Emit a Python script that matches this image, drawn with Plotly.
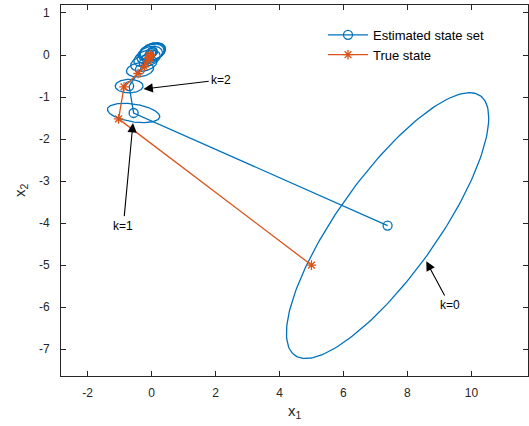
import numpy as np
import plotly.graph_objects as go

# ---- data ----
est_x = [7.38, -0.56, -0.70, -0.36, -0.24, -0.14, -0.06, -0.01, 0.02, 0.03, 0.04]
est_y = [-4.06, -1.38, -0.74, -0.35, -0.20, -0.08, 0.0, 0.05, 0.07, 0.08, 0.08]
true_x = [5.0, -1.03, -0.86, -0.42, -0.22, -0.12, -0.07, -0.05, -0.04, -0.03, -0.03]
true_y = [-5.0, -1.52, -0.76, -0.44, -0.28, -0.14, -0.07, -0.03, -0.01, 0.0, 0.0]
# shape matrices [P11, P12, P22] of the estimated state sets
shape_p11 = [10.0, 0.67, 0.19, 0.18, 0.17, 0.17, 0.16, 0.16, 0.16, 0.16, 0.16]
shape_p12 = [8.1, -0.07, 0.0, 0.015, 0.02, 0.025, 0.025, 0.025, 0.025, 0.025, 0.025]
shape_p22 = [10.0, 0.053, 0.026, 0.03, 0.036, 0.04, 0.044, 0.044, 0.044, 0.044, 0.044]

x_tickvals = [-2, 0, 2, 4, 6, 8, 10]
x_ticktext = ["-2", "0", "2", "4", "6", "8", "10"]
y_tickvals = [-7, -6, -5, -4, -3, -2, -1, 0, 1]
y_ticktext = ["-7", "-6", "-5", "-4", "-3", "-2", "-1", "0", "1"]

arrow_labels = ["k=0", "k=1", "k=2"]
arrow_tip_x = [8.59, -0.58, -0.25]
arrow_tip_y = [-4.91, -1.62, -0.81]
label_x = [9.32, -0.88, 2.18]
label_y = [-5.95, -4.06, -0.59]

BLUE = "#0072BD"
RED = "#D95319"
AX = "#262626"
FONT = "Liberation Sans, Arial, Helvetica, sans-serif"

fig = go.Figure()

t = np.linspace(0, 2 * np.pi, 200)
for cx, cy, a, b, c in zip(est_x, est_y, shape_p11, shape_p12, shape_p22):
    P = np.array([[a, b], [b, c]])
    L = np.linalg.cholesky(P)
    pts = L @ np.vstack([np.cos(t), np.sin(t)])
    fig.add_trace(go.Scatter(x=cx + pts[0], y=cy + pts[1], mode="lines",
                             line=dict(color=BLUE, width=1.3),
                             showlegend=False, hoverinfo="skip"))

fig.add_trace(go.Scatter(x=est_x, y=est_y, mode="lines+markers",
                         name="Estimated state set",
                         line=dict(color=BLUE, width=1.3),
                         marker=dict(symbol="circle-open", size=9,
                                     color=BLUE, line=dict(width=1.3))))
fig.add_trace(go.Scatter(x=true_x, y=true_y, mode="lines+markers",
                         name="True state",
                         line=dict(color=RED, width=1.3),
                         marker=dict(symbol="asterisk-open", size=8,
                                     color=RED, line=dict(width=1.3, color=RED))))

for lab, tx, ty, lx, ly in zip(arrow_labels, arrow_tip_x, arrow_tip_y, label_x, label_y):
    fig.add_annotation(x=tx, y=ty, ax=lx, ay=ly, xref="x", yref="y",
                       axref="x", ayref="y", text=lab, showarrow=True,
                       arrowhead=2, arrowsize=1.7, arrowwidth=1.1,
                       arrowcolor="black", startstandoff=1,
                       font=dict(size=12, color="black", family=FONT))

# axis titles
fig.add_annotation(x=0.5, y=-0.064, xref="paper", yref="paper", text="x<sub>1</sub>",
                   showarrow=False, xanchor="center", yanchor="top",
                   font=dict(size=15, color=AX, family=FONT))
fig.add_annotation(x=-0.062, y=0.5, xref="paper", yref="paper", text="x<sub>2</sub>",
                   showarrow=False, textangle=-90, xanchor="right", yanchor="middle",
                   font=dict(size=15, color=AX, family=FONT))

fig.update_layout(
    width=529, height=426,
    margin=dict(l=61, r=1, t=5, b=50),
    paper_bgcolor="white", plot_bgcolor="white",
    font=dict(family=FONT, size=12, color=AX),
    legend=dict(x=0.561, y=0.96, xanchor="left", yanchor="top",
                bgcolor="rgba(255,255,255,0)", font=dict(size=13, color="black"),
                itemwidth=40, tracegroupgap=0),
    showlegend=True,
)
fig.update_xaxes(range=[-2.83, 11.77], tickvals=x_tickvals, ticktext=x_ticktext,
                 ticks="inside", ticklen=5, tickcolor=AX, showline=True,
                 linecolor=AX, linewidth=1, mirror="ticks", showgrid=False,
                 zeroline=False, ticklabelstandoff=6, automargin=False)
fig.update_yaxes(range=[-7.64, 1.19], tickvals=y_tickvals, ticktext=y_ticktext,
                 ticks="inside", ticklen=5, tickcolor=AX, showline=True,
                 linecolor=AX, linewidth=1, mirror="ticks", showgrid=False,
                 zeroline=False, ticklabelstandoff=8, automargin=False)

fig.write_html("out.html", config={"displayModeBar": False},
               post_script="document.body.style.margin='0';"
                           "document.body.style.overflow='hidden';")
